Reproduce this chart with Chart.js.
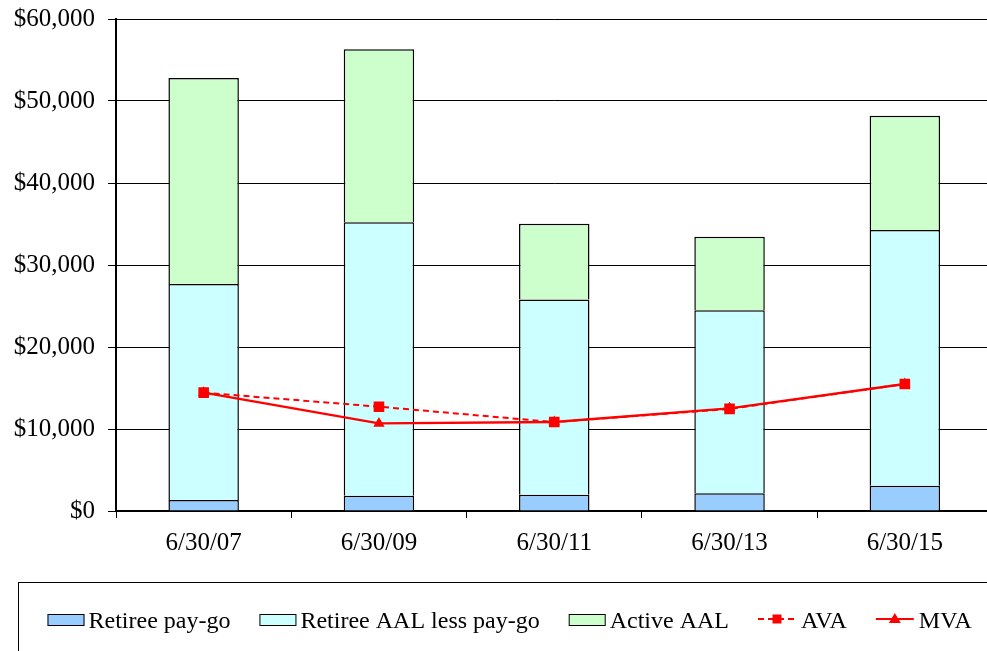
<!DOCTYPE html>
<html>
<head>
<meta charset="utf-8">
<title>Liabilities and assets</title>
<script src="https://cdn.jsdelivr.net/npm/chart.js@4.4.1/dist/chart.umd.min.js"></script>
<style>
  html, body { margin: 0; padding: 0; background: #fff; overflow: hidden; }
  #wrap { position: absolute; left: 0; top: 0; width: 1000px; height: 651px; }
</style>
</head>
<body>
<div id="wrap"><canvas id="c" width="1000" height="651"></canvas></div>
<script>
// Valuation dates
const categories = ['6/30/07', '6/30/09', '6/30/11', '6/30/13', '6/30/15'];

// Liability components (stacked bars), $ thousands
const retireePayGo = [1340, 1870, 1990, 2150, 3090];
const retireeAALLessPayGo = [26340, 33330, 23810, 22320, 31180];
const activeAAL = [25120, 21100, 9240, 8980, 13930];

// Asset values (lines)
const ava = [14430, 12720, 10850, 12450, 15490];
const mva = [14430, 10680, 10850, 12520, 15490];

// Value axis ticks
const yTicks = [0, 10000, 20000, 30000, 40000, 50000, 60000];

const SERIF = "'Liberation Serif', 'Times New Roman', serif";

// Boxed legend drawn along the bottom of the canvas
const boxedLegend = {
  id: 'boxedLegend',
  afterDraw(chart) {
    const ctx = chart.ctx;
    ctx.save();
    ctx.strokeStyle = '#000';
    ctx.lineWidth = 1;
    ctx.strokeRect(18.5, 582.5, 1200, 200);

    ctx.font = '24px ' + SERIF;
    ctx.textBaseline = 'alphabetic';
    ctx.fillStyle = '#000';
    const baseline = 628;
    const midY = 619;
    let x = 47.5;
    chart.data.datasets.forEach(ds => {
      if (ds.type === 'line') {
        ctx.save();
        ctx.strokeStyle = ds.borderColor;
        ctx.lineWidth = 2;
        ctx.setLineDash(ds.borderDash || []);
        ctx.beginPath();
        ctx.moveTo(x, midY);
        ctx.lineTo(x + 38, midY);
        ctx.stroke();
        ctx.restore();
        ctx.fillStyle = ds.backgroundColor;
        ctx.beginPath();
        if (ds.pointStyle === 'rect') {
          ctx.rect(x + 19 - 4.5, midY - 4.5, 9, 9);
        } else {
          ctx.moveTo(x + 19, midY - 6);
          ctx.lineTo(x + 25, midY + 4);
          ctx.lineTo(x + 13, midY + 4);
          ctx.closePath();
        }
        ctx.fill();
        ctx.fillStyle = '#000';
        x += 38 + 5;
      } else {
        ctx.fillStyle = ds.backgroundColor;
        ctx.fillRect(x, 614, 37, 12);
        ctx.strokeStyle = '#000';
        ctx.lineWidth = 1;
        ctx.strokeRect(x + 0.5, 614.5, 36, 11);
        ctx.fillStyle = '#000';
        x += 37 + 4;
      }
      ctx.fillText(ds.label, x, baseline);
      x += ctx.measureText(ds.label).width + 29;
    });
    ctx.restore();
  }
};

new Chart(document.getElementById('c'), {
  data: {
    labels: categories,
    datasets: [
      {
        type: 'bar', label: 'Retiree pay-go', data: retireePayGo,
        backgroundColor: '#99CCFF', borderColor: '#000', borderWidth: 1.5,
        stack: 'liab', order: 2
      },
      {
        type: 'bar', label: 'Retiree AAL less pay-go', data: retireeAALLessPayGo,
        backgroundColor: '#CCFFFF', borderColor: '#000', borderWidth: 1.5,
        stack: 'liab', order: 2
      },
      {
        type: 'bar', label: 'Active AAL', data: activeAAL,
        backgroundColor: '#CCFFCC', borderColor: '#000', borderWidth: 1.5,
        stack: 'liab', order: 2
      },
      {
        type: 'line', label: 'AVA', data: ava, stack: 'ava', order: 0,
        borderColor: '#FF0000', backgroundColor: '#FF0000', borderWidth: 2,
        borderDash: [6, 4], pointStyle: 'rect', pointRadius: 7.5,
        pointBorderWidth: 0, tension: 0, fill: false
      },
      {
        type: 'line', label: 'MVA', data: mva, stack: 'mva', order: 1,
        borderColor: '#FF0000', backgroundColor: '#FF0000', borderWidth: 2.4,
        pointStyle: 'triangle', pointRadius: 6.5,
        pointBorderWidth: 0, tension: 0, fill: false
      }
    ]
  },
  options: {
    responsive: false,
    animation: false,
    layout: { padding: { top: 19, right: 1.5, left: 0, bottom: 0 } },
    datasets: { bar: { categoryPercentage: 1, barPercentage: 0.402 } },
    plugins: { legend: { display: false }, tooltip: { enabled: false } },
    scales: {
      x: {
        stacked: true,
        offset: true,
        grid: { offset: true, drawOnChartArea: false, drawTicks: true, tickLength: 7, tickColor: '#000', tickWidth: 1 },
        border: { display: true, color: '#000', width: 2 },
        ticks: { color: '#000', font: { family: SERIF, size: 25 }, padding: 10, maxRotation: 0 },
        afterFit(scale) {
          scale.height = 140;
          scale.paddingLeft = 0;
          scale.paddingRight = 0;
        }
      },
      y: {
        stacked: true,
        min: 0, max: 60000,
        afterBuildTicks(scale) { scale.ticks = yTicks.map(v => ({ value: v })); },
        grid: { color: '#000', lineWidth: 1, drawTicks: true, tickLength: 8, tickColor: '#000' },
        border: { display: true, color: '#000', width: 2 },
        ticks: {
          color: '#000', font: { family: SERIF, size: 25 }, padding: 13,
          callback: v => '$' + Number(v).toLocaleString('en-US')
        },
        afterFit(scale) {
          scale.width = 116;
          scale.paddingTop = 0;
          scale.paddingBottom = 0;
        }
      }
    }
  },
  plugins: [boxedLegend]
});
</script>
</body>
</html>
